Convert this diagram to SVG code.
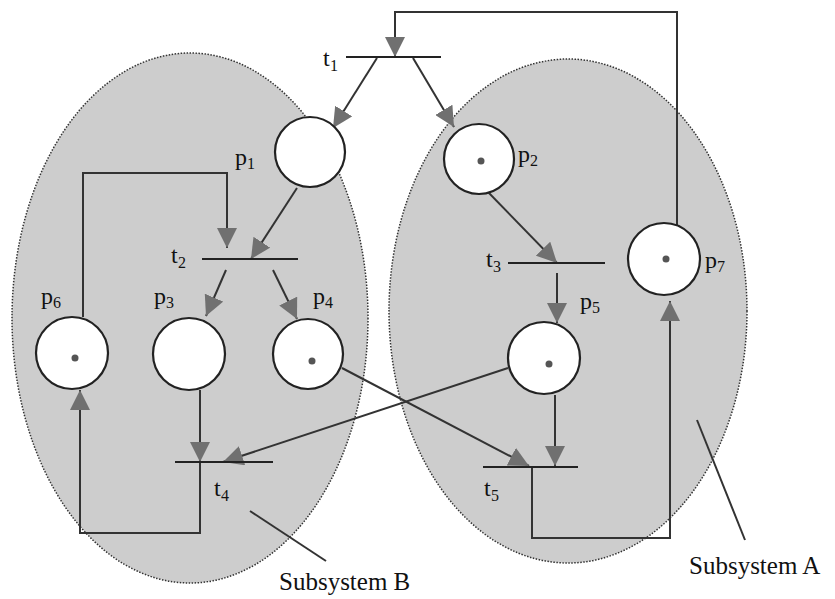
<svg xmlns="http://www.w3.org/2000/svg" width="835" height="599" viewBox="0 0 835 599">
<defs>
<marker id="ah" viewBox="0 0 10 10" refX="10" refY="5" markerWidth="20" markerHeight="20" markerUnits="userSpaceOnUse" orient="auto">
<path d="M0,0 L10,5 L0,10 z" fill="#707070"/>
</marker>
</defs>
<style>
.sub{fill:#cdcdcd;stroke:#333;stroke-width:1.5;stroke-dasharray:1.5 1.5}
.place{fill:#fff;stroke:#222;stroke-width:2.2}
.tok{fill:#555}
.bar{stroke:#222;stroke-width:2.2}
.arc{fill:none;stroke:#333;stroke-width:2}
.arr{fill:none;stroke:#333;stroke-width:2;marker-end:url(#ah)}
text{font-family:"Liberation Serif","Times New Roman",serif;fill:#111}
.lbl{font-size:24px}
.sl{font-size:16px}
.cap{font-size:25px}
</style>
<rect width="835" height="599" fill="#fff"/>
<g id="subsystemB"><ellipse class="sub" cx="190" cy="318" rx="178" ry="265"/></g>
<g id="subsystemA"><ellipse class="sub" cx="568" cy="311" rx="179" ry="252"/></g>

<g id="connectors">
<polyline class="arr" points="677,228 677,12 395,12 395,57"/>
<line class="arr" x1="377" y1="58" x2="333" y2="128"/>
<line class="arr" x1="413" y1="58" x2="454" y2="127"/>
<line class="arr" x1="297" y1="188" x2="251" y2="259"/>
<polyline class="arr" points="83,317 83,173 227,173 227,248"/>
<line class="arr" x1="226" y1="270" x2="206" y2="316"/>
<line class="arr" x1="273" y1="270" x2="297" y2="319"/>
<line class="arr" x1="488" y1="192" x2="557" y2="263"/>
<line class="arr" x1="557" y1="273" x2="557" y2="323"/>
<line class="arr" x1="200" y1="390" x2="200" y2="462"/>
<line class="arr" x1="508" y1="368" x2="223" y2="462"/>
<line class="arr" x1="342" y1="368" x2="529" y2="466"/>
<line class="arr" x1="555" y1="395" x2="555" y2="466"/>
<polyline class="arr" points="200,462 200,533 80,533 80,390"/>
<polyline class="arr" points="532,467 532,538 670,538 670,301"/>
<line class="arc" x1="250" y1="511" x2="326" y2="561"/>
<line class="arc" x1="697" y1="420" x2="745" y2="540"/>
</g>

<g id="t1"><line class="bar" x1="346" y1="57" x2="441" y2="57"/><text class="lbl" x="323" y="66">t</text><text class="sl" x="330" y="71">1</text></g>
<g id="t2"><line class="bar" x1="202" y1="259" x2="298" y2="259"/><text class="lbl" x="171" y="263">t</text><text class="sl" x="178" y="268">2</text></g>
<g id="t3"><line class="bar" x1="508" y1="263" x2="605" y2="263"/><text class="lbl" x="486" y="267">t</text><text class="sl" x="493" y="272">3</text></g>
<g id="t4"><line class="bar" x1="175" y1="462" x2="273" y2="462"/><text class="lbl" x="214" y="496">t</text><text class="sl" x="221" y="501">4</text></g>
<g id="t5"><line class="bar" x1="483" y1="467" x2="578" y2="467"/><text class="lbl" x="484" y="496">t</text><text class="sl" x="491" y="501">5</text></g>

<g id="p1"><circle class="place" cx="310" cy="152" r="35"/><text class="lbl" x="235" y="165">p</text><text class="sl" x="247" y="169">1</text></g>
<g id="p2"><circle class="place" cx="479" cy="159" r="35"/><circle class="tok" cx="481" cy="161" r="3.5"/><text class="lbl" x="518" y="162">p</text><text class="sl" x="530" y="166">2</text></g>
<g id="p3"><circle class="place" cx="189" cy="354" r="36"/><text class="lbl" x="154" y="304">p</text><text class="sl" x="166" y="308">3</text></g>
<g id="p4"><circle class="place" cx="308" cy="354" r="35"/><circle class="tok" cx="312" cy="361" r="3.5"/><text class="lbl" x="313" y="304">p</text><text class="sl" x="325" y="308">4</text></g>
<g id="p5"><circle class="place" cx="544" cy="358" r="36"/><circle class="tok" cx="549" cy="364" r="3.5"/><text class="lbl" x="580" y="309">p</text><text class="sl" x="592" y="313">5</text></g>
<g id="p6"><circle class="place" cx="72" cy="353" r="36"/><circle class="tok" cx="75" cy="358" r="3.5"/><text class="lbl" x="41" y="304">p</text><text class="sl" x="53" y="308">6</text></g>
<g id="p7"><circle class="place" cx="664" cy="259" r="36"/><circle class="tok" cx="666" cy="259" r="3.5"/><text class="lbl" x="705" y="268">p</text><text class="sl" x="717" y="272">7</text></g>

<g id="labels">
<text class="cap" x="279" y="590">Subsystem B</text>
<text class="cap" x="689" y="574">Subsystem A</text>
</g>
</svg>
